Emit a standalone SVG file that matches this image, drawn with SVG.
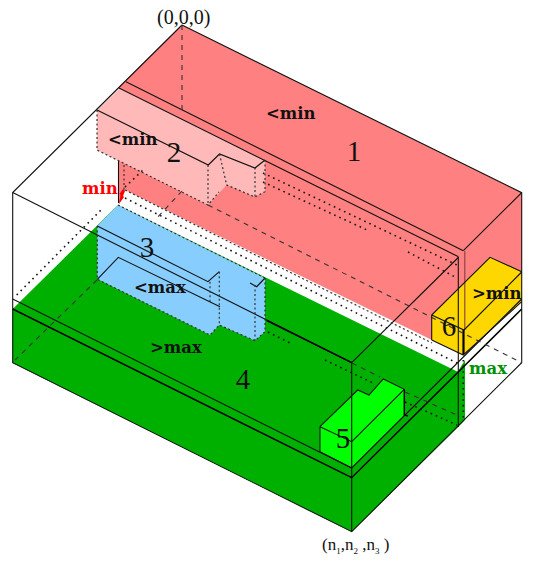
<svg xmlns="http://www.w3.org/2000/svg" width="535" height="568" viewBox="0 0 535 568">
<style>
.s{fill:none;stroke:#111;stroke-width:1.1}
.d{fill:none;stroke:#333;stroke-width:1.1;stroke-dasharray:5 5}
.o{fill:none;stroke:#111;stroke-width:1.6;stroke-dasharray:1.6 4}
.p{fill:none;stroke:#333;stroke-width:1.2;stroke-dasharray:2 2.5}
.n{font-family:"Liberation Serif",serif;font-size:29px;fill:#111;text-anchor:middle}
.l{font-family:"DejaVu Serif","Liberation Serif",serif;font-weight:bold;font-size:16.5px;fill:#111}
.c{font-family:"Liberation Serif",serif;font-size:20px;fill:#111}
</style>
<rect width="535" height="568" fill="#fff"/>
<g id="face-1"><polygon points="182,25 521.7,192.7 521.7,280 463,340 432,340 125,190 119,204 119,87" fill="#ff8080"/></g>
<g id="face-4"><polygon points="12.7,309 118,205 457.7,371.7 465,360 465,420 458.3,427 351.7,531.7 12.7,363" fill="#00b000"/></g>
<g id="region-2"><polygon points="120,88 265,160 265,191.7 255,197 226.7,185 208,205 97,150 97,110" fill="#ffb9b9"/></g>
<g id="region-3"><polygon points="118,205 265,278 265,331.7 255,340.7 219.3,325 210,335 97.3,279 97.3,226" fill="#87ceff"/></g>
<g id="region-5"><polygon points="320,426.7 357.7,390 369,395 383.3,379 404.3,389.3 404.3,415 351.7,468 320,451.7" fill="#00ff00"/></g>
<g id="region-6"><polygon points="490,257.3 521.7,271.7 521.7,301.7 463.3,355 431.7,340 431.7,315" fill="#ffd700"/></g>
<g id="min-mark"><polygon points="119,204 120.5,195 119.5,194 123,189 125,191 123,196 124,197" fill="#ff0000"/></g>
<g id="connectors">
<path class="s" d="M182 25L521.7 192.7V362.7L351.7 531.7L12.7 362.7V192.5L182 25"/>
<path class="s" d="M12.7 192.5L351.7 362.7V531.7M351.7 362.7L458.3 257.5M463.3 250.7L521.7 192.7"/>
<path class="s" d="M126 81.7L463.3 250.7M119 88L458 256.5"/>
<path class="s" stroke-width="1.4" d="M458.3 256.5V427"/>
<path fill="none" stroke="#8a3c3c" stroke-width="1.1" d="M464.8 251V330"/>
<path fill="none" stroke="#000" stroke-width="2.2" d="M463.5 330V354"/>
<path class="s" d="M12.7 299L351.7 468L521.7 299"/>
<path fill="none" stroke="#000" stroke-width="1.5" d="M12.7 309L351.7 477.7L521.7 309M266.7 320.5L351.7 362.7"/>
<path class="s" d="M118.5 161V203"/>
<path class="p" d="M124 165V190"/>
<path class="d" d="M182 25V115M182 191L155 220M97 280L15 360M208 205L521.7 362.7"/>
<path class="o" d="M16.7 295L103 208M125 187L143 170"/>
<path class="o" d="M125 198L457 363"/>
<path class="p" d="M125 190L432 343"/>
<path class="o" stroke-width="1.2" d="M263 173L457 265M263 182L367 230M408 252L457 278"/>
<path class="o" d="M463.3 360V420"/>
<path class="d" d="M352 363L380 377M405 392L457 415"/>
<path class="o" stroke-width="1.2" d="M268 332L290 343M325 360L373 383M405 402L457 425"/>
<path class="s" d="M97 110L208.3 165L219.5 154L255 168L265 160"/>
<path class="p" d="M97 110V150L208 205L219 192M208 165V205M219.5 154L226.7 185L255 197V168M265 160V191.7L255 197"/>
<path class="s" d="M97.3 226L208 281.7L219.3 271.7M97.3 279.3L118.3 257.3L220 306.7"/>
<path class="s" d="M250 283L256.7 286.7L265 278"/>
<path class="p" d="M97.3 226V279.3L210 335L219.3 325M210 281.7V303M219.3 271.7V325L255 340.7L265 331.7V278M255 285V340.7M118 205L265 278"/>
<path fill="none" stroke="#000" stroke-width="1.5" d="M404.3 389.3V415L408 416"/>
<path class="s" d="M320 426.7V451.7L351.7 468M320 426.7L357.7 390L369 395L383.3 379L404.3 389.3L351.7 441.7L320 426.7"/>
<path class="s" d="M431.7 340V315L490 257.3L521.7 271.7M431.7 315L464 330L521.7 272M431.7 340L463.3 355L521.7 301.7"/>
</g>
<g id="labels">
<text class="c" x="157" y="24">(0,0,0)</text>
<text class="n" x="354" y="161">1</text>
<text class="n" x="174" y="162">2</text>
<text class="n" x="147" y="257">3</text>
<text class="n" x="243" y="389">4</text>
<text class="n" x="343" y="448">5</text>
<text class="n" x="449" y="336">6</text>
<text class="l" x="266" y="119">&lt;min</text>
<text class="l" x="108" y="145">&lt;min</text>
<text class="l" x="134" y="293">&lt;max</text>
<text class="l" x="150" y="353">&gt;max</text>
<text class="l" x="472" y="299">&gt;min</text>
<text class="l" x="82" y="194" style="fill:#ff0000">min</text>
<text class="l" x="469" y="374" style="fill:#009000">max</text>
<text class="c" x="322" y="550" style="font-size:17px">(n<tspan dy="4" font-size="9">1</tspan><tspan dy="-4">,n</tspan><tspan dy="4" font-size="9">2</tspan><tspan dy="-4"> ,n</tspan><tspan dy="4" font-size="9">3</tspan><tspan dy="-4"> )</tspan></text>
</g>
</svg>
